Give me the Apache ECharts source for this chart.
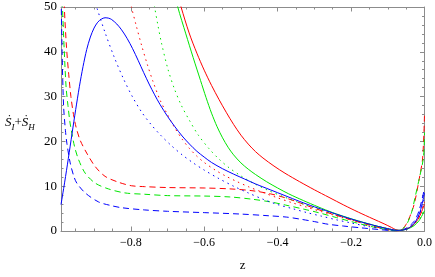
<!DOCTYPE html>
<html>
<head>
<meta charset="utf-8">
<script src="https://cdn.jsdelivr.net/npm/echarts@6/dist/echarts.min.js"></script>
<style>html,body{margin:0;padding:0;background:#fff}#c{width:435px;height:277px}</style>
</head>
<body>
<div id="c"></div>
<script>
// Tick values
const xMajorTicks = [-0.8, -0.6, -0.4, -0.2, 0.0];
const xMinorTicks = [-0.95, -0.9, -0.85, -0.75, -0.7, -0.65, -0.55, -0.5, -0.45, -0.35, -0.3, -0.25, -0.15, -0.1, -0.05];

// Series data [z, value]
const redSolid = [[-0.68,55],[-0.663,50],[-0.641,44.2],[-0.62,39.7],[-0.6,35.9],[-0.58,32.5],[-0.56,29.4],[-0.54,26.5],[-0.52,23.8],[-0.5,21.4],[-0.48,19.4],[-0.46,17.7],[-0.44,16.3],[-0.41,14.5],[-0.38,12.9],[-0.34,11.0],[-0.3,9.2],[-0.26,7.5],[-0.22,5.8],[-0.18,4.2],[-0.14,2.7],[-0.11,1.6],[-0.09,0.8],[-0.08,0.35],[-0.07,0.15],[-0.06,0.2],[-0.045,0.6],[-0.03,1.4],[-0.015,3.0],[0,6.0]];
const greenSolid = [[-0.69,56],[-0.672,50],[-0.65,44.0],[-0.63,38.7],[-0.61,33.6],[-0.595,29.8],[-0.58,26.3],[-0.565,23.3],[-0.55,20.8],[-0.535,18.7],[-0.52,17.0],[-0.5,15.2],[-0.48,13.8],[-0.46,12.6],[-0.43,11.0],[-0.4,9.6],[-0.37,8.3],[-0.33,6.8],[-0.29,5.4],[-0.25,4.1],[-0.21,3.0],[-0.17,2.0],[-0.13,1.1],[-0.1,0.5],[-0.085,0.25],[-0.075,0.15],[-0.06,0.2],[-0.045,0.5],[-0.03,1.1],[-0.015,2.3],[0,4.5]];
const blueSolid = [[-0.99,5.9],[-0.98,10.9],[-0.97,16.2],[-0.96,21.7],[-0.95,27.1],[-0.94,32.2],[-0.93,36.7],[-0.92,40.5],[-0.91,43.3],[-0.9,45.3],[-0.89,46.6],[-0.88,47.3],[-0.87,47.6],[-0.86,47.5],[-0.852,47.2],[-0.838,46.2],[-0.825,44.9],[-0.81,43.0],[-0.795,40.7],[-0.78,38.1],[-0.765,35.4],[-0.75,32.8],[-0.735,30.4],[-0.72,28.2],[-0.7,25.6],[-0.68,23.3],[-0.66,21.2],[-0.64,19.4],[-0.62,17.8],[-0.6,16.5],[-0.58,15.3],[-0.55,13.9],[-0.52,12.7],[-0.49,11.6],[-0.46,10.5],[-0.42,9.2],[-0.38,7.9],[-0.34,6.6],[-0.3,5.4],[-0.26,4.3],[-0.22,3.2],[-0.18,2.2],[-0.14,1.3],[-0.11,0.7],[-0.09,0.35],[-0.075,0.15],[-0.06,0.2],[-0.046,0.5],[-0.034,1.2],[-0.023,2.3],[-0.012,4.3],[0,8.5]];
const redDotted = [[-0.81,55],[-0.798,50],[-0.785,45.8],[-0.77,41.3],[-0.755,37.2],[-0.74,33.5],[-0.72,29.2],[-0.7,26.0],[-0.68,23.0],[-0.66,20.5],[-0.64,18.4],[-0.62,16.7],[-0.6,15.3],[-0.57,13.6],[-0.54,12.2],[-0.51,11.0],[-0.48,9.9],[-0.44,8.6],[-0.4,7.4],[-0.36,6.3],[-0.32,5.3],[-0.28,4.3],[-0.24,3.4],[-0.2,2.5],[-0.16,1.7],[-0.12,0.9],[-0.095,0.4],[-0.075,0.15],[-0.06,0.2],[-0.045,0.6],[-0.03,1.4],[-0.015,3.0],[0,6.5]];
const greenDotted = [[-0.742,54],[-0.735,50],[-0.726,45.9],[-0.717,42.2],[-0.699,36.2],[-0.681,31.7],[-0.662,28.0],[-0.641,24.8],[-0.616,21.4],[-0.586,18.3],[-0.559,16.0],[-0.532,14.1],[-0.5,12.3],[-0.469,10.8],[-0.424,9.0],[-0.379,7.5],[-0.33,6.0],[-0.289,4.9],[-0.25,3.9],[-0.21,2.9],[-0.17,2.0],[-0.13,1.1],[-0.1,0.5],[-0.085,0.25],[-0.075,0.15],[-0.06,0.2],[-0.045,0.5],[-0.03,1.2],[-0.015,2.4],[0,5.0]];
const blueDotted = [[-0.9,52],[-0.893,50],[-0.87,44.3],[-0.845,38.8],[-0.82,34.0],[-0.795,29.9],[-0.77,26.5],[-0.745,23.8],[-0.72,21.5],[-0.69,19.1],[-0.66,17.0],[-0.63,15.2],[-0.6,13.6],[-0.56,11.7],[-0.52,10.0],[-0.48,8.5],[-0.44,7.1],[-0.4,5.9],[-0.36,5.0],[-0.32,4.1],[-0.28,3.3],[-0.24,2.5],[-0.2,1.8],[-0.16,1.1],[-0.12,0.55],[-0.095,0.25],[-0.075,0.1],[-0.06,0.2],[-0.045,0.6],[-0.03,1.5],[-0.015,3.4],[0,7.5]];
const redDashed = [[-0.985,60],[-0.981,50],[-0.975,41],[-0.969,35],[-0.963,30],[-0.956,26.0],[-0.949,23.2],[-0.938,20.3],[-0.92,17.4],[-0.897,14.4],[-0.87,12.2],[-0.834,10.9],[-0.798,10.1],[-0.762,9.9],[-0.7,9.7],[-0.6,9.6],[-0.53,9.4],[-0.47,9.0],[-0.42,8.3],[-0.379,7.4],[-0.33,6.0],[-0.308,5.3],[-0.26,4.0],[-0.2,2.5],[-0.15,1.3],[-0.11,0.5],[-0.075,0.05],[-0.062,0.3],[-0.05,1.5],[-0.04,3.2],[-0.028,6.0],[-0.014,11.8],[-0.005,16.3],[0,26]];
const greenDashed = [[-0.99,58],[-0.986,50],[-0.981,40],[-0.976,32],[-0.971,28],[-0.966,24.5],[-0.962,22.5],[-0.953,18.8],[-0.942,15.9],[-0.924,12.9],[-0.897,10.7],[-0.861,9.4],[-0.816,8.5],[-0.762,8.2],[-0.7,7.9],[-0.6,7.8],[-0.53,7.6],[-0.47,7.1],[-0.42,6.5],[-0.379,5.8],[-0.33,4.9],[-0.289,4.1],[-0.24,3.0],[-0.19,1.9],[-0.14,0.9],[-0.1,0.3],[-0.075,0.05],[-0.06,0.4],[-0.046,1.9],[-0.035,4.2],[-0.026,7.4],[-0.014,11.8],[-0.003,16.3],[0,22]];
const blueDashed = [[-0.99,54],[-0.987,40],[-0.983,28],[-0.978,22.5],[-0.974,19.6],[-0.965,15.2],[-0.955,12.2],[-0.947,10.7],[-0.924,8.5],[-0.888,6.5],[-0.855,5.7],[-0.825,5.2],[-0.762,4.7],[-0.7,4.4],[-0.6,4.1],[-0.505,3.8],[-0.424,3.4],[-0.375,3.1],[-0.335,2.6],[-0.3,2.1],[-0.262,1.5],[-0.22,1.1],[-0.172,0.7],[-0.12,0.3],[-0.082,0.05],[-0.06,0.3],[-0.046,0.8],[-0.028,2.2],[-0.015,4.5],[0,9.5]];

const RED = '#ff0000', GREEN = '#00e600', BLUE = '#0000ff';
const DOT = [1.5, 4], DASH = [6, 4];
const FRAME = '#8c8c8c';
const FONT = 'Liberation Serif';

function line(data, color, type) {
  return {
    type: 'line', data: data, showSymbol: false, symbol: 'none', smooth: 0.3,
    clip: true, animation: false, silent: true,
    lineStyle: { color: color, width: 1, type: type }
  };
}

function xAx(pos, ticks, len, withLine, withLabel) {
  return {
    type: 'value', position: pos, min: -0.99, max: 0,
    axisLine: { show: withLine, onZero: false, lineStyle: { color: FRAME, width: 1 } },
    axisTick: { show: true, inside: true, length: len, customValues: ticks, lineStyle: { color: FRAME } },
    axisLabel: withLabel ? {
      show: true, customValues: ticks, margin: 6, color: '#000', fontFamily: FONT, fontSize: 12,
      formatter: function (v) { return (v < 0 ? '\u2212' : '') + Math.abs(v).toFixed(1); }
    } : { show: false },
    splitLine: { show: false },
    name: withLabel ? 'z' : '', nameLocation: 'middle', nameGap: 28,
    nameTextStyle: { color: '#000', fontFamily: FONT, fontSize: 13 }
  };
}

function yAx(pos, withLabel) {
  return {
    type: 'value', position: pos, min: 0, max: 50, interval: 10,
    axisLine: { show: true, onZero: false, lineStyle: { color: FRAME, width: 1 } },
    axisTick: { show: true, inside: true, length: 4.5, lineStyle: { color: FRAME } },
    minorTick: { show: true, splitNumber: 5, length: 2.5, lineStyle: { color: FRAME } },
    axisLabel: withLabel ? { show: true, margin: 4, color: '#000', fontFamily: FONT, fontSize: 13 } : { show: false },
    splitLine: { show: false }
  };
}

const chart = echarts.init(document.getElementById('c'), null, { renderer: 'canvas' });
chart.setOption({
  animation: false,
  backgroundColor: '#fff',
  grid: { left: 61, right: 8.5, top: 7, bottom: 43.5, containLabel: false },
  xAxis: [
    xAx('bottom', xMajorTicks, 4.5, true, true),
    xAx('bottom', xMinorTicks, 2.5, false, false),
    xAx('top', xMajorTicks, 4.5, true, false),
    xAx('top', xMinorTicks, 2.5, false, false)
  ],
  yAxis: [yAx('left', true), yAx('right', false)],
  graphic: [{
    type: 'text', left: 5, top: 116,
    style: {
      text: '{s|\u1E60}{sub|I}{p|+}{s|\u1E60}{sub|H}',
      fill: '#000',
      rich: {
        s: { fontFamily: FONT, fontStyle: 'italic', fontSize: 13, verticalAlign: 'bottom' },
        sub: { fontFamily: FONT, fontStyle: 'italic', fontSize: 9, verticalAlign: 'bottom', padding: [0, 0, -3, 0] },
        p: { fontFamily: FONT, fontSize: 13, verticalAlign: 'bottom' }
      }
    }
  }],
  series: [
    line(redDashed, RED, DASH), line(greenDashed, GREEN, DASH), line(blueDashed, BLUE, DASH),
    line(redDotted, RED, DOT), line(greenDotted, GREEN, DOT), line(blueDotted, BLUE, DOT),
    line(redSolid, RED, 'solid'), line(greenSolid, GREEN, 'solid'), line(blueSolid, BLUE, 'solid')
  ]
});
</script>
</body>
</html>
